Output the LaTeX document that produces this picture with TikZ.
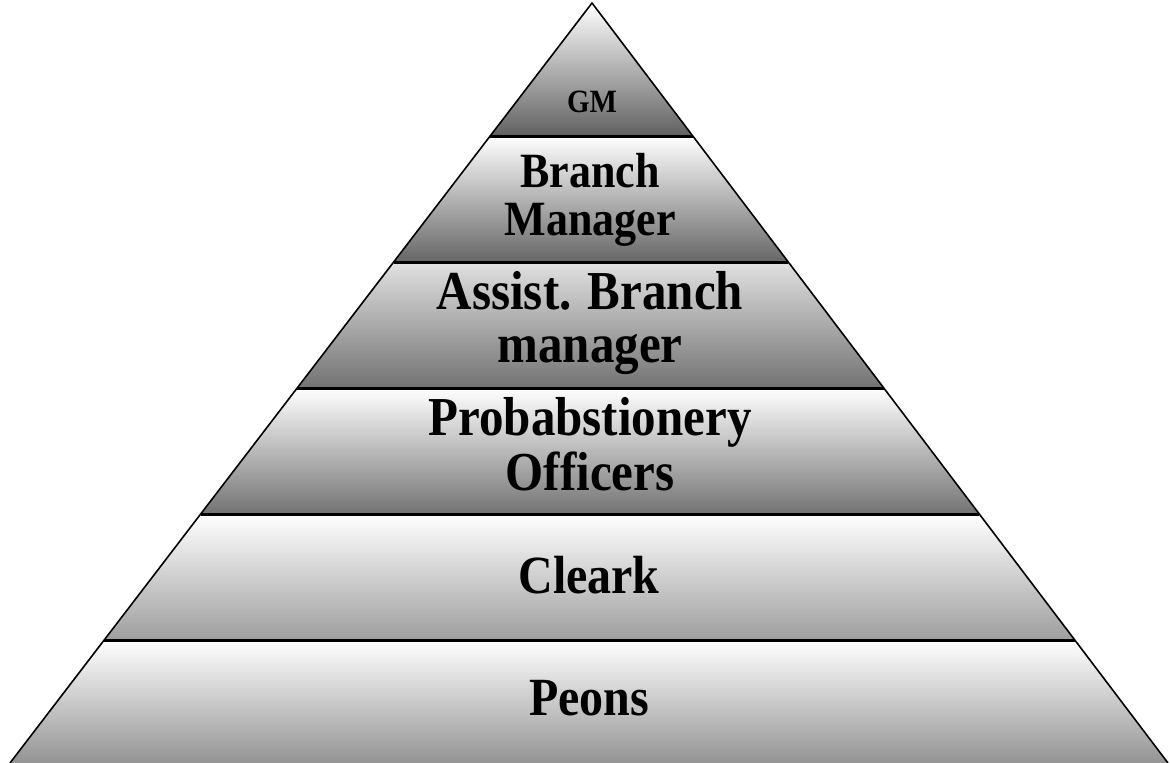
\documentclass[tikz,border=0pt]{standalone}
\usepackage{fontspec}
\setmainfont{Liberation Serif}
\usetikzlibrary{calc}
\begin{document}
\begin{tikzpicture}[x=1pt,y=1pt,
  outline/.style={draw=black,line width=1.6pt,line join=round},
  divider/.style={draw=black,line width=3pt},
  label/.style={anchor=base,inner sep=0pt,align=center,transform shape,yscale=1.12}
]
\useasboundingbox (0,0) rectangle (1170,-763);

% corners of the pyramid
\coordinate (apex) at (592,-3);
\coordinate (bl) at (10,-763);
\coordinate (br) at (1168,-763);

% level boundaries along the two sides
\foreach \i/\t in {1/0.175,2/0.3408,3/0.5066,4/0.6724,5/0.8382}{
  \coordinate (l\i) at ($(apex)!\t!(bl)$);
  \coordinate (r\i) at ($(apex)!\t!(br)$);
}

% shaded levels, light at the top of each level, darker below
\shade[top color=white,middle color=black!15,bottom color=black!62] (apex) -- (l1) -- (r1) -- cycle;
\shade[top color=white,middle color=black!22,bottom color=black!60] (l1) -- (l2) -- (r2) -- (r1) -- cycle;
\shade[top color=black!12,middle color=black!35,bottom color=black!55] (l2) -- (l3) -- (r3) -- (r2) -- cycle;
\shade[top color=white,middle color=black!22,bottom color=black!55] (l3) -- (l4) -- (r4) -- (r3) -- cycle;
\shade[top color=white,middle color=black!10,bottom color=black!38] (l4) -- (l5) -- (r5) -- (r4) -- cycle;
\shade[top color=white,middle color=black!15,bottom color=black!42] (l5) -- (bl) -- (br) -- (r5) -- cycle;

% dividers between levels
\foreach \i in {1,...,5}{\draw[divider] (l\i) -- (r\i);}

% outline
\draw[outline] (bl) -- (apex) -- (br);

% level labels (anchored at the baseline of their last line)
\node[label,font=\bfseries\fontsize{29}{30}\selectfont] (gm) at (592,-112) {GM};
\node[label,font=\bfseries\fontsize{44}{42}\selectfont] (bm) at (590,-235) {Branch\\Manager};
\node[label,font=\bfseries\fontsize{49}{46.5}\selectfont] (abm) at (590,-362) {Assist. Branch\\manager};
\node[label,font=\bfseries\fontsize{49}{49}\selectfont] (po) at (590,-490) {Probabstionery\\Officers};
\node[label,font=\bfseries\fontsize{48}{50}\selectfont] (cl) at (589,-593) {Cleark};
\node[label,font=\bfseries\fontsize{48}{50}\selectfont] (pe) at (589,-715) {Peons};
\end{tikzpicture}
\end{document}
